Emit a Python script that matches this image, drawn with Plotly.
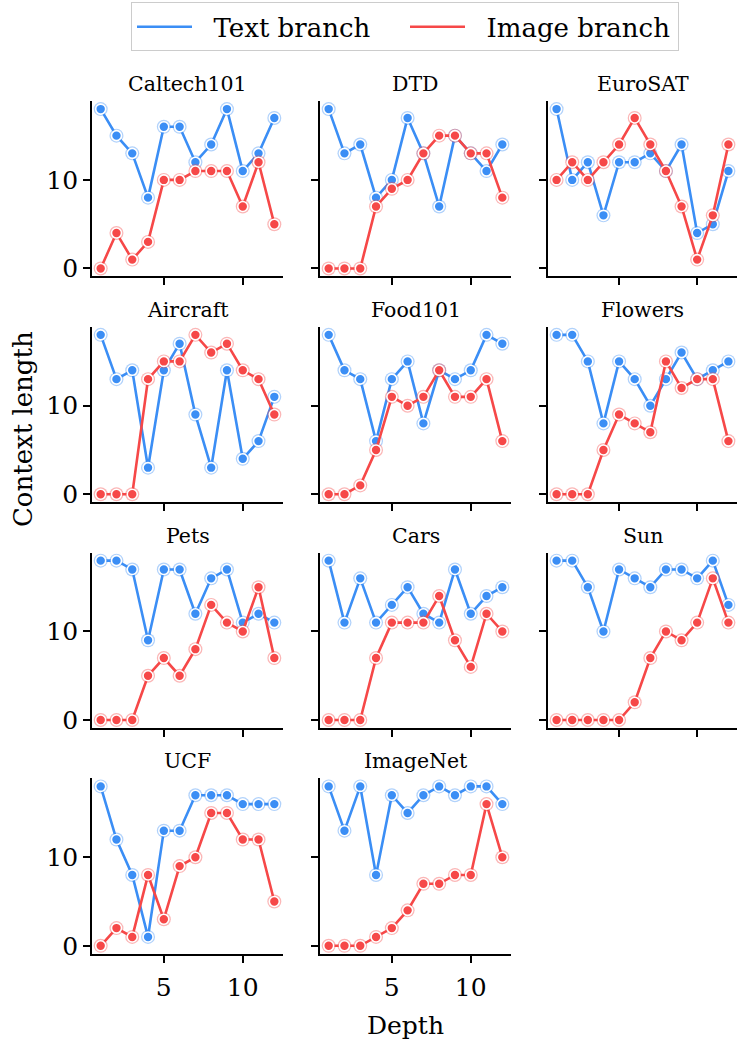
import plotly.graph_objects as go

W, H = 737, 1042

depth = list(range(1, 13))
titles = ["Caltech101", "DTD", "EuroSAT", "Aircraft", "Food101", "Flowers",
          "Pets", "Cars", "Sun", "UCF", "ImageNet"]

caltech_text = [18, 15, 13, 8, 16, 16, 12, 14, 18, 11, 13, 17]
caltech_image = [0, 4, 1, 3, 10, 10, 11, 11, 11, 7, 12, 5]
dtd_text = [18, 13, 14, 8, 10, 17, 13, 7, 15, 13, 11, 14]
dtd_image = [0, 0, 0, 7, 9, 10, 13, 15, 15, 13, 13, 8]
eurosat_text = [18, 10, 12, 6, 12, 12, 13, 11, 14, 4, 5, 11]
eurosat_image = [10, 12, 10, 12, 14, 17, 14, 11, 7, 1, 6, 14]
aircraft_text = [18, 13, 14, 3, 14, 17, 9, 3, 14, 4, 6, 11]
aircraft_image = [0, 0, 0, 13, 15, 15, 18, 16, 17, 14, 13, 9]
food_text = [18, 14, 13, 6, 13, 15, 8, 14, 13, 14, 18, 17]
food_image = [0, 0, 1, 5, 11, 10, 11, 14, 11, 11, 13, 6]
flowers_text = [18, 18, 15, 8, 15, 13, 10, 13, 16, 13, 14, 15]
flowers_image = [0, 0, 0, 5, 9, 8, 7, 15, 12, 13, 13, 6]
pets_text = [18, 18, 17, 9, 17, 17, 12, 16, 17, 11, 12, 11]
pets_image = [0, 0, 0, 5, 7, 5, 8, 13, 11, 10, 15, 7]
cars_text = [18, 11, 16, 11, 13, 15, 12, 11, 17, 12, 14, 15]
cars_image = [0, 0, 0, 7, 11, 11, 11, 14, 9, 6, 12, 10]
sun_text = [18, 18, 15, 10, 17, 16, 15, 17, 17, 16, 18, 13]
sun_image = [0, 0, 0, 0, 0, 2, 7, 10, 9, 11, 16, 11]
ucf_text = [18, 12, 8, 1, 13, 13, 17, 17, 17, 16, 16, 16]
ucf_image = [0, 2, 1, 8, 3, 9, 10, 15, 15, 12, 12, 5]
imagenet_text = [18, 13, 18, 8, 17, 15, 17, 18, 17, 18, 18, 16]
imagenet_image = [0, 0, 0, 1, 2, 4, 7, 7, 8, 8, 16, 10]

text_series = [caltech_text, dtd_text, eurosat_text, aircraft_text, food_text,
               flowers_text, pets_text, cars_text, sun_text, ucf_text, imagenet_text]
image_series = [caltech_image, dtd_image, eurosat_image, aircraft_image, food_image,
                flowers_image, pets_image, cars_image, sun_image, ucf_image, imagenet_image]

y_ticks = [0, 10]
x_ticks = [5, 10]

BLUE = "#3b8ef5"
BLUE_RING = "rgba(59,142,245,0.40)"
RED = "#f64848"
RED_RING = "rgba(246,72,72,0.40)"
FONT = "DejaVu Serif"

fig = go.Figure()

col_left = [92, 320, 548]
row_top = [101.8, 329.1, 556.4, 783.7]
ax_w = 191
ax_h = 176.5

layout_axes = {}
annotations = []
for i, name in enumerate(titles):
    r, c = divmod(i, 3)
    k = i + 1
    xs = "x" if k == 1 else f"x{k}"
    ys = "y" if k == 1 else f"y{k}"
    left = col_left[c]
    right = min(left + ax_w, W)
    top = row_top[r]
    bottom = top + ax_h
    xdom = [left / W, right / W]
    ydom = [1 - bottom / H, 1 - top / H]
    show_x_labels = r == 3
    layout_axes[f"xaxis{'' if k == 1 else k}"] = dict(
        domain=xdom, anchor=ys, range=[0.45, 12.55],
        tickvals=x_ticks, ticktext=[str(v) for v in x_ticks] if show_x_labels else ["", ""],
        ticks="outside", ticklen=7, tickwidth=1.5, tickcolor="black",
        showline=True, linecolor="black", linewidth=1.8, showgrid=False, zeroline=False,
        tickfont=dict(family=FONT, size=25, color="black"), ticklabelstandoff=3,
    )
    layout_axes[f"yaxis{'' if k == 1 else k}"] = dict(
        domain=ydom, anchor=xs, range=[-0.9, 18.9],
        tickvals=y_ticks, ticktext=[str(v) for v in y_ticks] if c == 0 else ["", ""],
        ticks="outside", ticklen=7, tickwidth=1.5, tickcolor="black",
        showline=True, linecolor="black", linewidth=1.8, showgrid=False, zeroline=False,
        tickfont=dict(family=FONT, size=25, color="black"),
    )
    annotations.append(dict(
        text=name, x=(left + right) / 2 / W, y=1 - (top - 3) / H,
        xref="paper", yref="paper", xanchor="center", yanchor="bottom",
        showarrow=False, font=dict(family=FONT, size=20.5, color="black"),
    ))

    for vals, col, ring in [(text_series[i], BLUE, BLUE_RING), (image_series[i], RED, RED_RING)]:
        fig.add_trace(go.Scatter(
            x=depth, y=vals, xaxis=xs, yaxis=ys, mode="markers",
            marker=dict(size=14, color=ring, line=dict(width=0)),
            showlegend=False, hoverinfo="skip",
        ))
        fig.add_trace(go.Scatter(
            x=depth, y=vals, xaxis=xs, yaxis=ys, mode="lines+markers",
            line=dict(color=col, width=2.6),
            marker=dict(size=10, color=col, line=dict(width=1.6, color="white")),
            showlegend=False,
        ))

fig.add_trace(go.Scatter(x=[None], y=[None], mode="lines", name="\u00a0\u00a0Text branch",
                         line=dict(color=BLUE, width=2.6), showlegend=True))
fig.add_trace(go.Scatter(x=[None], y=[None], mode="lines", name="\u00a0\u00a0Image branch",
                         line=dict(color=RED, width=2.6), showlegend=True))

annotations.append(dict(
    text="Context length", x=23 / W, y=1 - 432 / H, xref="paper", yref="paper",
    xanchor="center", yanchor="middle", textangle=-90, showarrow=False,
    font=dict(family=FONT, size=26, color="black"),
))
annotations.append(dict(
    text="Depth", x=405 / W, y=1 - 1032 / H, xref="paper", yref="paper",
    xanchor="center", yanchor="middle", showarrow=False,
    font=dict(family=FONT, size=25, color="black"),
))

fig.update_layout(
    width=W, height=H, margin=dict(l=0, r=0, t=0, b=0),
    paper_bgcolor="white", plot_bgcolor="white",
    annotations=annotations,
    legend=dict(
        orientation="h", x=405 / W, xanchor="center", y=1 - 27 / H, yanchor="middle",
        bordercolor="#cccccc", borderwidth=1, bgcolor="white",
        font=dict(family=FONT, size=26, color="black"),
        itemwidth=55, entrywidth=203,
    ),
    **layout_axes,
)

fig.write_html("out.html")
